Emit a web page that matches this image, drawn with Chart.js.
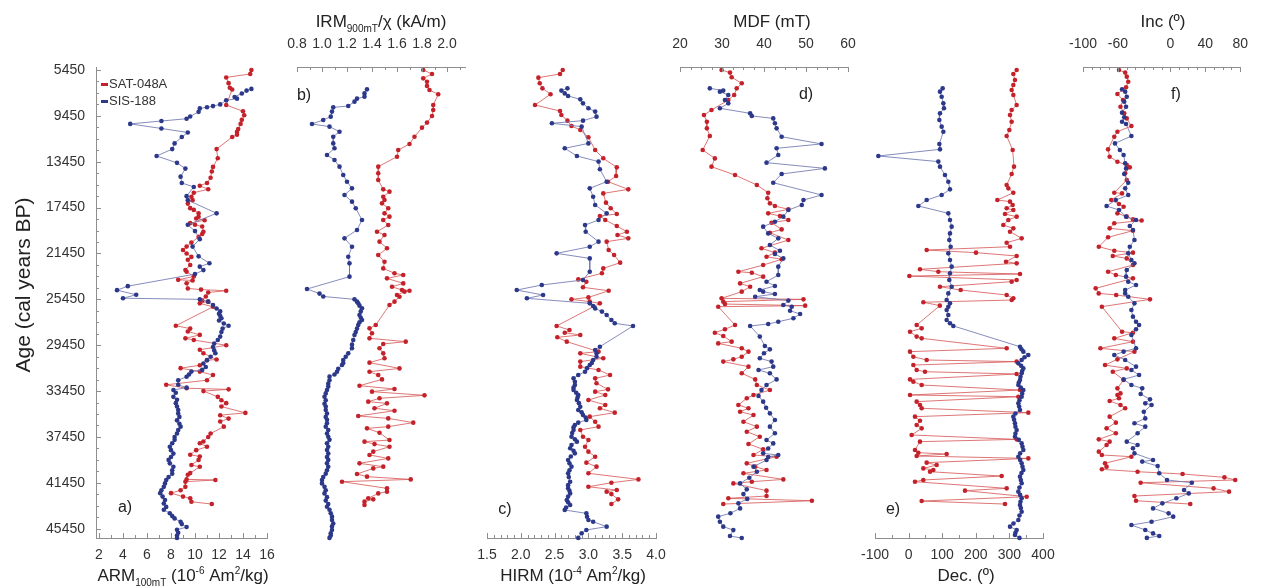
<!DOCTYPE html>
<html>
<head>
<meta charset="utf-8">
<script src="https://cdn.jsdelivr.net/npm/chart.js@4.4.1/dist/chart.umd.min.js"></script>
<style>
  html, body { margin: 0; padding: 0; background: #fff; }
  #wrap { position: relative; width: 1262px; height: 586px; background: #fff; overflow: hidden; }
  #wrap canvas { position: absolute; left: 0; top: 0; }
</style>
</head>
<body>
<div id="wrap"></div>
<script>
// ---------------- Age axis (cal years BP) ----------------
const ageTicks = [5450, 9450, 13450, 17450, 21450, 25450, 29450, 33450, 37450, 41450, 45450];

// ---------------- a) ARM 100mT (10^-6 Am2/kg) ----------------
const armTicks = [2, 4, 6, 8, 10, 12, 14, 16];
const armSatAge = [5450,5800,6100,6600,7000,7150,8500,9050,9400,9800,10150,10600,10850,11100,11300,12350,13150,13900,14300,14850,15300,15550,15850,16150,16500,16800,17100,17500,17650,17950,18250,18400,18550,18800,18950,19100,19550,19750,20000,20500,20850,21150,21450,21750,22000,22450,22900,23050,23450,23750,23800,24050,24500,24600,24700,24850,25200,25550,25650,25800,26100,27750,28000,28250,28550,28850,29000,29450,29850,30150,30700,30750,31200,31450,31750,32050,32500,32900,33200,33300,33450,33950,34250,34500,34800,35350,35550,35850,36100,36550,37150,37450,37850,38000,38300,38600,39000,39150,39450,39900,40050,40600,40750,41150,41200,41350,41800,42100,42350,42650,42800,43100,43300];
const armSatVal = [14.7,14.6,12.6,12.8,12.9,13.1,12.6,14.0,14.1,13.9,13.8,13.6,13.5,13.5,13.1,11.8,11.9,11.5,11.4,11.3,11.0,10.4,11.1,9.9,9.7,9.8,9.4,9.6,9.9,10.3,10.3,10.1,10.8,9.6,10.0,10.6,10.7,10.6,10.3,9.7,9.3,9.0,9.3,9.7,9.4,9.6,9.2,9.3,9.9,8.6,9.8,9.3,9.4,10.5,12.6,11.1,10.9,10.6,11.1,10.4,11.5,8.4,9.6,9.4,10.4,9.2,9.9,12.6,10.4,10.7,11.8,11.0,10.4,8.8,10.4,11.5,11.0,7.6,9.3,12.8,10.7,11.9,12.2,12.6,12.2,14.2,12.1,12.8,12.1,12.4,11.3,11.1,10.7,10.4,11.0,10.1,9.6,10.4,10.3,9.7,10.4,9.6,9.4,9.3,11.7,9.2,9.2,8.8,8.0,9.0,9.6,9.7,11.4];
const armSisAge = [7100,7250,7500,7800,7950,8100,8450,8600,8700,8800,9100,9500,9700,9900,10150,10550,10900,11300,11850,12350,12950,13550,14050,14750,15300,15650,16450,16800,17950,18950,19500,20200,20850,21700,22300,22600,22900,23250,24300,24650,25050,25350,25450,25650,25950,26250,26500,26700,26900,27100,27300,27550,27750,28000,28300,28700,29000,29300,29600,29900,30150,30450,30750,31050,31350,31600,31750,32000,32200,32500,32900,33150,33350,33600,33950,34200,34500,34800,35100,35400,35700,36000,36300,36550,36850,37150,37450,37700,38000,38300,38600,38900,39200,39450,39750,40050,40350,40650,40950,41200,41500,41800,42100,42350,42650,42950,43250,43550,43800,44100,44350,44550,44850,45050,45300,45550,45800,46050,46250];
const armSisVal = [14.7,14.3,13.9,13.3,13.5,12.6,12.1,11.5,11.0,10.4,10.3,9.6,9.3,7.2,4.6,7.2,9.4,8.9,8.3,8.1,6.8,8.5,9.2,8.8,8.9,9.9,9.3,9.4,11.8,9.4,10.0,10.4,9.8,10.3,11.2,10.4,10.7,10.0,4.4,3.5,5.1,4.0,10.4,11.1,11.5,11.8,12.1,12.0,12.1,12.2,12.0,12.4,12.8,12.3,12.2,12.1,11.9,11.6,11.5,11.6,11.7,11.3,11.0,10.7,10.9,10.6,9.7,9.5,9.3,8.6,8.6,9.3,8.2,8.4,8.2,8.5,8.4,8.5,8.6,8.6,8.7,8.5,8.7,8.8,8.6,8.5,8.3,8.3,8.1,7.9,8.0,8.2,8.0,7.8,7.9,8.2,8.1,8.1,7.8,7.6,7.5,7.4,7.2,7.1,7.3,7.5,7.4,7.6,7.4,7.9,8.1,8.3,8.8,8.9,9.3,8.5,8.6,8.5,8.5];

// ---------------- b) IRM 900mT / chi (kA/m) ----------------
const irmTicks = [0.8, 1.0, 1.2, 1.4, 1.6, 1.8, 2.0];
const irmSatAge = [5450,5800,6180,6470,6850,7200,7570,8500,8940,9460,10040,10480,11270,11900,12430,13010,13880,14460,15040,15860,16060,16500,16790,17080,17510,17950,18240,18530,18970,19550,19840,20420,21000,21580,22170,22750,23180,23330,23620,24060,24350,24640,24700,24780,25070,25220,25650,25940,27690,27980,28410,28850,29140,29340,29720,30160,30590,30970,31470,31760,32050,32430,32980,33270,33500,33820,34080,34370,34520,34950,35160,35620,35830,36200,36550,36700,37080,37720,37860,38070,38300,38730,39020,39320,39750,40040,40190,40680,40910,41150,41350,41930,42220,42370,42800,42890,43090,43380];
const irmSatVal = [1.81,1.88,1.81,1.84,1.84,1.86,1.93,1.89,1.89,1.88,1.84,1.80,1.74,1.70,1.61,1.60,1.45,1.45,1.45,1.49,1.54,1.49,1.50,1.48,1.53,1.50,1.54,1.49,1.53,1.44,1.50,1.46,1.52,1.45,1.50,1.49,1.58,1.65,1.52,1.65,1.56,1.64,1.70,1.66,1.60,1.62,1.58,1.54,1.43,1.38,1.40,1.38,1.67,1.49,1.46,1.49,1.50,1.38,1.62,1.38,1.45,1.48,1.30,1.58,1.40,1.82,1.46,1.37,1.52,1.42,1.58,1.29,1.53,1.73,1.53,1.36,1.46,1.54,1.34,1.42,1.54,1.41,1.38,1.53,1.30,1.49,1.41,1.28,1.36,1.71,1.16,1.52,1.52,1.45,1.37,1.41,1.34,1.34];
const irmSisAge = [7140,7490,7780,7950,8210,8590,8710,9080,9520,9810,10160,10390,10830,11270,11850,12280,12860,13300,13880,14610,15190,15770,16350,16930,17510,18530,19400,20130,20860,21730,22310,23470,24550,24950,25200,25450,25650,25800,26000,26230,26500,26810,27050,27250,27450,27690,28000,28300,28560,29000,29400,29720,30160,30450,30740,31000,31180,31500,31760,32000,32190,32500,32800,33060,33350,33650,33940,34250,34550,34800,35100,35400,35700,35950,36260,36550,36850,37150,37430,37700,38000,38300,38590,38900,39200,39450,39750,40050,40350,40650,40950,41200,41500,41800,42100,42370,42700,43000,43300,43530,43800,44100,44400,44690,45000,45250,45560,45850,46050,46250];
const irmSisVal = [1.36,1.34,1.34,1.28,1.26,1.21,1.09,1.08,1.07,1.01,0.92,1.06,1.14,1.09,1.09,1.10,1.04,1.10,1.14,1.17,1.20,1.24,1.18,1.24,1.27,1.32,1.28,1.18,1.24,1.21,1.22,1.22,0.88,0.98,1.01,1.26,1.28,1.29,1.30,1.32,1.31,1.30,1.31,1.32,1.30,1.29,1.28,1.27,1.26,1.25,1.24,1.24,1.21,1.19,1.17,1.17,1.16,1.13,1.12,1.10,1.06,1.06,1.05,1.05,1.04,1.03,1.02,1.03,1.02,1.03,1.03,1.04,1.03,1.04,1.04,1.03,1.05,1.04,1.05,1.06,1.04,1.05,1.04,1.05,1.04,1.05,1.04,1.05,1.04,1.03,1.01,1.00,1.00,1.02,1.03,1.02,1.04,1.03,1.05,1.04,1.06,1.07,1.08,1.08,1.09,1.08,1.08,1.07,1.07,1.06];

// ---------------- c) HIRM (10^-4 Am2/kg) ----------------
const hirmTicks = [1.5, 2.0, 2.5, 3.0, 3.5, 4.0];
const hirmSatAge = [5450,5800,6120,6610,7050,7570,8500,9030,9380,9870,10330,10680,11320,12430,13150,13940,14700,15190,15860,16210,17020,17510,18010,18180,18530,19060,19550,19840,20130,20420,21150,21580,22250,22750,23180,23710,23910,24400,24700,25280,25450,25650,25800,27770,28120,28360,28560,28760,29140,30010,30160,30590,30880,31320,31610,32050,32340,32770,33300,33500,33790,34230,34660,34950,35330,35680,36120,36550,36840,37430,37720,38300,38730,39170,39690,40040,40620,41150,41440,41790,42080,42220,42430,42890,43300];
const hirmSatVal = [2.62,2.58,2.26,2.28,2.32,2.44,2.21,2.58,2.60,2.69,2.75,2.88,3.00,3.10,3.22,3.42,3.41,3.29,3.59,3.22,3.26,3.33,3.42,3.17,3.25,3.42,3.57,3.43,3.59,3.27,3.30,3.38,3.47,3.22,3.20,2.85,2.97,2.92,3.30,3.00,2.75,3.02,3.17,2.53,2.72,2.65,2.88,2.54,2.68,3.15,2.88,3.22,2.88,2.88,3.15,3.32,3.10,3.12,3.29,3.10,3.25,3.00,3.25,3.17,3.39,3.02,3.10,3.15,2.88,2.92,3.00,2.95,3.00,3.10,2.97,3.12,3.00,3.74,3.34,3.00,3.42,3.27,3.34,3.44,3.34];
const hirmSisAge = [7050,7250,7490,7720,8010,8360,8790,9080,9520,9870,10100,10390,11850,12280,12950,13440,14110,15190,15770,16500,17220,17950,18530,18970,19550,20420,20860,21440,21880,23040,23760,24200,24640,25070,25360,25800,26030,26240,26520,26810,27250,27540,27770,29580,29870,30150,30450,30740,31000,31180,31450,31760,32050,32340,32630,32920,33150,33360,33600,33790,34000,34230,34500,34810,35100,35300,35540,35750,35970,36200,36410,36600,36840,37100,37430,37650,37860,38150,38440,38650,38880,39150,39460,39750,40040,40350,40620,40950,41350,41650,41930,42150,42370,42650,42950,43150,43380,43600,43820,44110,44400,44690,44840,45270,45560,45850,46250];
const hirmSisVal = [2.69,2.60,2.65,2.70,2.88,2.92,3.00,3.10,3.12,2.92,2.46,2.90,3.00,2.65,2.83,3.15,3.17,3.27,3.02,3.07,3.10,3.27,3.15,2.95,2.96,3.15,3.02,2.53,3.02,3.02,2.92,2.31,1.94,2.33,2.09,3.02,3.07,3.10,3.20,3.27,3.34,3.39,3.66,3.17,3.10,3.12,3.12,3.07,3.05,3.02,2.98,2.95,2.85,2.78,2.80,2.80,2.78,2.78,2.82,2.85,2.84,2.83,2.86,2.88,2.85,2.90,2.92,2.96,2.97,2.85,2.80,2.78,2.78,2.76,2.75,2.80,2.83,2.75,2.73,2.78,2.80,2.74,2.70,2.72,2.75,2.72,2.70,2.71,2.73,2.70,2.70,2.72,2.73,2.70,2.68,2.70,2.73,2.67,2.65,2.97,2.98,3.00,3.07,3.27,2.97,2.90,2.85];

// ---------------- d) MDF (mT) ----------------
const mdfTicks = [20, 30, 40, 50, 60];
const mdfSatAge = [5450,5680,6090,6610,7050,7630,8070,8940,9380,9960,10540,11210,12430,13160,13880,14610,15480,16150,16640,17080,17310,17600,17950,18180,18530,18770,19350,19640,20280,21000,21380,21730,21960,22460,23040,23130,23470,24060,24350,24780,25360,25450,25650,25860,26000,26090,27690,28060,28360,28650,29140,29290,29720,30010,30450,30680,30880,31320,31900,32430,32920,33360,33790,34080,34660,34950,35250,35540,36120,36550,36990,37430,38060,38530,39020,39170,39750,40040,40330,40620,41150,41350,41500,42130,42600,42800,43010,43300];
const mdfSatVal = [29.9,31.9,32.3,34.7,33.5,32.9,31.5,27.5,25.7,26.4,26.4,27.1,25.4,28.3,27.5,33.1,38.3,41.0,40.8,41.4,42.6,45.8,41.0,43.8,45.8,41.8,44.2,41.4,45.8,39.4,42.6,40.6,44.2,39.8,33.9,37.1,39.8,34.3,36.7,34.7,29.9,49.4,30.3,30.7,49.8,29.1,33.1,30.7,28.3,30.3,32.3,29.1,34.7,36.3,34.7,32.7,30.3,36.3,34.7,37.9,38.3,41.4,37.5,35.9,33.9,36.3,34.3,37.5,35.1,38.3,35.9,39.0,36.3,39.8,37.5,43.0,35.9,37.9,40.6,35.1,44.6,37.1,32.7,40.6,40.6,31.5,51.4,30.3];
const mdfSisAge = [7050,7250,7340,7630,8070,8360,8790,9230,9460,9670,10100,10540,11270,11900,12280,12860,13530,14030,14520,15280,16350,16790,17220,17660,18240,18680,19110,19700,20130,20710,21210,21500,21880,22600,23330,23910,24290,24640,24780,24980,25220,25560,25940,26090,26440,26730,27100,27400,27600,27770,28700,29520,29810,30150,30590,30880,31320,31610,31900,32430,32920,33360,33880,34370,34900,35390,35970,36550,37130,37720,38010,38450,38880,39020,39200,39460,40040,40480,41000,41500,42020,42430,42850,43240,43680,44100,44400,44840,45270,45570,46090,46260];
const mdfSisVal = [27.1,30.3,29.5,31.5,30.7,31.5,29.5,36.7,37.1,42.2,42.6,43.0,44.2,53.7,43.0,43.4,40.6,54.5,44.2,42.2,53.7,49.4,49.0,45.8,44.6,42.6,39.8,41.0,43.4,41.4,43.8,42.6,44.6,43.4,43.4,40.6,42.6,39.0,39.8,42.6,37.9,45.8,44.6,46.6,46.2,48.6,47.0,43.4,41.0,36.7,39.0,40.2,41.4,40.0,39.0,41.8,42.2,38.7,41.4,43.0,40.6,39.4,38.7,39.8,40.5,41.4,42.6,41.4,42.6,40.6,42.2,41.0,39.8,43.4,41.0,40.6,37.5,38.3,36.5,34.3,35.9,35.1,36.0,33.9,34.3,32.0,29.1,29.5,30.3,32.7,31.9,34.7];

// ---------------- e) Declination (º) ----------------
const decTicks = [-100, 0, 100, 200, 300, 400];
const decSatAge = [5450,5800,6320,6760,7190,7630,8500,8940,9380,9960,10680,11210,12430,13880,14520,15480,15770,16150,16790,16930,17220,17510,17660,18010,18240,18530,18970,19260,19550,20130,20510,20860,21150,21380,21670,22170,22310,22830,23040,23240,23420,23760,23910,24350,24640,25070,25360,25510,25700,26000,27690,27980,28270,28700,28850,29720,30010,30450,30740,30880,31180,31610,31760,31960,32430,32630,32920,33360,33790,33940,34370,34660,34950,35330,35680,36030,36410,36700,37280,37660,37860,38590,38820,38940,39110,39320,39690,39900,40190,40330,40480,40860,41200,41350,41930,42130,42660,43040,43300];
const decSatVal = [321.6,311.7,316.6,311.7,306.7,311.7,321.6,306.7,301.8,306.7,299.8,291.9,309.7,313.7,306.7,291.9,296.8,311.7,264.1,301.8,309.7,291.9,311.7,286.9,321.6,296.8,281.9,311.7,301.8,336.5,291.9,301.8,53.8,200.6,321.6,289.9,321.6,33.9,88.5,331.5,2.2,321.6,306.7,93.4,155.0,291.9,311.7,306.7,43.8,93.0,24.0,38.9,4.2,24.0,38.9,291.9,4.2,14.1,53.8,321.6,14.1,24.0,48.8,321.6,4.2,14.1,38.9,331.5,4.2,326.6,24.0,33.9,38.9,356.3,19.0,33.9,24.0,38.9,9.1,321.6,33.9,19.0,29.0,113.3,24.0,356.3,53.8,83.5,43.8,73.6,63.7,277.0,43.8,19.0,291.9,167.8,351.4,38.9,286.9];
const decSisAge = [7050,7340,7780,8360,8790,9230,9810,10390,10830,11900,12370,12950,13440,13880,14610,15190,15860,16350,16790,17310,17950,18530,19110,19700,20280,20860,21440,22020,22600,23180,23760,24350,24930,25510,25800,26090,26380,26810,27250,27540,27770,29580,29800,30010,30300,30500,30740,31030,31250,31470,31700,31900,32200,32480,32700,32920,33150,33360,33650,33940,34250,34520,34800,35100,35400,35680,35950,36260,36550,36840,37150,37430,37700,38010,38300,38590,38880,39170,39450,39750,40050,40330,40600,40910,41200,41490,41850,42220,42500,42800,43100,43380,43650,43970,44300,44690,45000,45270,45560,45800,46000,46250];
const decSisVal = [101.4,93.4,98.4,103.4,105.3,93.4,91.5,98.4,103.4,91.5,93.4,-90.1,88.5,93.4,108.3,118.2,123.2,98.4,53.8,29.0,118.2,123.2,128.2,123.2,121.2,125.2,118.2,123.2,128.2,123.2,121.2,128.2,118.2,113.3,123.2,118.2,113.3,118.2,113.3,123.2,133.1,331.5,336.0,341.5,356.3,345.0,336.5,326.6,335.0,341.5,338.0,336.5,333.0,331.5,328.0,326.6,334.0,341.5,338.0,336.5,330.0,326.6,329.0,331.5,318.0,311.7,314.0,316.6,318.0,321.6,318.0,316.6,328.0,336.5,339.0,341.5,332.0,326.6,332.0,336.5,339.0,341.5,336.0,331.5,334.0,336.5,330.0,326.6,332.0,336.5,333.0,331.5,334.0,336.5,330.0,326.6,312.0,301.8,321.6,318.0,316.6,330.0];

// ---------------- f) Inclination (º) ----------------
const incTicks = [-100, -60, 0, 40, 80];
const incSatAge = [5450,5680,6030,6470,6960,7540,8070,8650,9230,9670,10340,10830,11270,12370,13010,13450,13740,13940,14460,15040,16150,16210,16790,17140,17370,17950,18240,18480,18580,18820,19260,19460,20040,20860,21210,21380,21670,21880,22460,23040,23330,23620,24490,24930,25070,25450,26090,28270,28360,28850,29140,29720,30010,30680,31180,31470,31760,32480,33210,33650,33790,34080,34310,34660,34950,35680,36200,36700,37130,37660,37860,38150,38730,39020,39170,39750,40040,40270,40480,40680,40970,41200,41440,41930,42220,42600,43010,43300];
const incSatVal = [-58.8,-51.7,-49.9,-48.2,-50.7,-60.6,-54.2,-57.1,-52.8,-49.9,-44.6,-60.6,-64.2,-71.3,-69.5,-60.6,-49.9,-46.4,-51.7,-49.9,-64.2,-55.3,-67.7,-58.8,-53.5,-60.6,-49.9,-42.8,-32.9,-64.2,-69.5,-42.8,-71.3,-81.9,-64.2,-42.8,-65.9,-49.9,-42.8,-71.3,-62.4,-42.8,-85.5,-82.0,-62.0,-23.3,-78.4,-55.3,-42.8,-64.2,-42.8,-80.1,-41.1,-60.6,-74.8,-49.9,-65.9,-53.5,-60.6,-57.1,-60.6,-58.8,-69.5,-57.1,-51.7,-69.5,-62.4,-73.0,-62.4,-81.9,-69.5,-73.0,-81.9,-78.4,-44.6,-74.8,-73.0,-78.4,-37.5,14.0,61.9,74.3,-34.0,49.5,67.2,-41.1,-39.3,22.8];
const incSisAge = [7140,7340,7780,8210,8650,9170,9580,9960,10160,11210,11850,12430,12860,13590,14030,14520,15280,15770,16350,16790,17310,17660,18240,18530,19060,19400,20280,20860,21440,22020,22310,22890,23470,23910,24200,24640,24930,25220,25800,26380,26960,27400,27690,28060,28560,29720,30010,30300,30740,31320,31610,32050,32430,32920,33210,33700,34170,34520,34660,35250,35830,36260,36550,37130,37860,38150,38440,38880,39460,39600,39980,40620,41200,41440,42080,42370,42800,43240,43680,44110,44400,44840,45130,45560,45860,46090,46250];
const incSisVal = [-55.3,-51.7,-49.9,-52.8,-50.7,-55.3,-52.8,-55.3,-50.7,-44.6,-63.4,-57.8,-53.5,-51.7,-50.7,-52.8,-48.2,-51.7,-48.2,-62.4,-73.0,-58.8,-50.7,-39.3,-46.4,-42.8,-41.1,-46.4,-48.2,-44.6,-41.1,-49.9,-50.7,-48.2,-39.3,-51.7,-51.7,-48.2,-41.1,-44.6,-42.8,-39.3,-35.8,-39.3,-44.6,-39.3,-53.5,-64.2,-51.7,-39.3,-44.6,-35.8,-53.5,-44.6,-32.2,-34.0,-23.3,-28.7,-21.5,-30.4,-28.7,-41.1,-28.7,-37.5,-49.9,-37.5,-42.8,-41.1,-19.8,-32.2,-14.5,-12.7,-3.8,24.6,15.7,21.1,6.9,-9.1,-19.8,-2.0,3.3,-21.5,-44.6,-28.7,-19.8,-12.7,-26.9];

// ---------------- styling ----------------
const FONT = "'Liberation Sans', Arial, Helvetica, sans-serif";
const W = 1262, H = 586;
const PLOT_TOP = 67, PLOT_BOTTOM = 538;
const AGE_MIN = 5190, AGE_MAX = 46260;
const AXIS = '#8e8e8e', TXT = '#333333';
const SAT = { dot: '#c4222b', line: 'rgba(214, 86, 86, 0.9)', name: 'SAT-048A' };
const SIS = { dot: '#2c3889', line: 'rgba(112, 120, 176, 0.95)', name: 'SIS-188' };

Chart.defaults.font.family = FONT;

function near(v, list) { return list.some(m => Math.abs(m - v) < 1e-6); }
function stepList(a, b, step) {
  const out = [];
  const n = Math.round((b - a) / step);
  for (let i = 0; i <= n; i++) out.push(Math.round((a + i * step) * 1000) / 1000);
  return out;
}

// draws a line of text with sub/superscript segments, centred on (cx, cy)
function drawRich(ctx, segs, cx, cy, size) {
  const small = Math.round(size * 0.6);
  const parts = segs.map(([t, kind]) => {
    const fs = kind ? small : size;
    ctx.font = fs + 'px ' + FONT;
    return { t, kind, fs, w: ctx.measureText(t).width };
  });
  const total = parts.reduce((s, p) => s + p.w, 0);
  let x = cx - total / 2;
  const base = cy + size * 0.36;
  ctx.textAlign = 'left';
  ctx.textBaseline = 'alphabetic';
  parts.forEach(p => {
    ctx.font = p.fs + 'px ' + FONT;
    const dy = p.kind === 'sub' ? size * 0.3 : p.kind === 'sup' ? -size * 0.42 : 0;
    ctx.fillText(p.t, x, base + dy);
    x += p.w;
  });
}

const yMinor = stepList(5450, 45450, 1000);

function makePanel(p) {
  const canvas = document.createElement('canvas');
  canvas.width = W; canvas.height = H;
  document.getElementById('wrap').appendChild(canvas);

  const xTickVals = stepList(p.minorFrom, p.minorTo, p.minorStep);
  const top = p.xPos === 'top';

  const decor = {
    id: 'decor_' + p.tag,
    afterDraw(chart) {
      const ctx = chart.ctx;
      ctx.save();
      // inward tick marks on the x axis
      ctx.strokeStyle = AXIS; ctx.lineWidth = 1;
      ctx.beginPath();
      const sx = chart.scales.x;
      sx.ticks.forEach(t => {
        const px = Math.round(sx.getPixelForValue(t.value)) + 0.5;
        const len = near(t.value, p.majors) ? 5 : 3;
        if (top) { ctx.moveTo(px, sx.bottom); ctx.lineTo(px, sx.bottom + len); }
        else { ctx.moveTo(px, sx.top); ctx.lineTo(px, sx.top - len); }
      });
      if (p.showY) {
        const sy = chart.scales.y;
        sy.ticks.forEach(t => {
          const py = Math.round(sy.getPixelForValue(t.value)) + 0.5;
          const len = near(t.value, ageTicks) ? 5 : 3;
          ctx.moveTo(sy.right, py); ctx.lineTo(sy.right + len, py);
        });
      }
      ctx.stroke();

      // axis title
      ctx.fillStyle = '#222';
      drawRich(ctx, p.title, p.titleX, top ? 21 : 575, 17);

      // panel tag
      ctx.font = '16px ' + FONT;
      ctx.textAlign = 'center'; ctx.textBaseline = 'middle';
      ctx.fillText(p.tag, p.tagX, p.tagY);

      if (p.showY) {
        // age axis title
        ctx.save();
        ctx.translate(22, 285);
        ctx.rotate(-Math.PI / 2);
        drawRich(ctx, [['Age (cal years BP)']], 0, 0, 21);
        ctx.restore();
        // legend
        [[SAT, 84.5], [SIS, 101.5]].forEach(([s, y]) => {
          ctx.fillStyle = s.dot;
          ctx.fillRect(101, y - 1.5, 7, 3);
          ctx.fillStyle = '#333';
          ctx.font = '13px ' + FONT;
          ctx.textAlign = 'left'; ctx.textBaseline = 'middle';
          ctx.fillText(s.name, 109, y);
        });
      }
      ctx.restore();
    }
  };

  const mkSet = (s, age, val) => ({
    label: s.name,
    data: age.map((a, i) => ({ x: val[i], y: a })),
    showLine: true,
    borderColor: s.line,
    borderWidth: 0.9,
    backgroundColor: s.dot,
    pointBackgroundColor: s.dot,
    pointBorderWidth: 0,
    pointRadius: 2.3,
    pointHoverRadius: 2.3,
    tension: 0,
    clip: false
  });

  new Chart(canvas, {
    type: 'scatter',
    data: {
      datasets: [mkSet(SIS, p.sisAge, p.sisVal), mkSet(SAT, p.satAge, p.satVal)]
    },
    options: {
      responsive: false,
      animation: false,
      events: [],
      layout: { padding: p.pad },
      plugins: { legend: { display: false }, tooltip: { enabled: false } },
      scales: {
        x: {
          type: 'linear',
          position: p.xPos,
          min: p.xMin, max: p.xMax,
          afterFit: s => { s.height = top ? PLOT_TOP : H - PLOT_BOTTOM; },
          afterBuildTicks: s => { s.ticks = xTickVals.map(v => ({ value: v })); },
          grid: { display: false, drawTicks: false },
          border: { display: true, color: AXIS, width: 1 },
          ticks: {
            autoSkip: false, maxRotation: 0, minRotation: 0,
            padding: top ? 14 : 9,
            color: TXT,
            font: { family: FONT, size: 14 },
            callback: v => near(v, p.majors) ? p.fmt(v) : ''
          }
        },
        y: {
          type: 'linear',
          reverse: true,
          min: AGE_MIN, max: AGE_MAX,
          display: p.showY,
          afterFit: p.showY ? (s => { s.width = 96; }) : undefined,
          afterBuildTicks: s => { s.ticks = yMinor.map(v => ({ value: v })); },
          grid: { display: false, drawTicks: false },
          border: { display: true, color: AXIS, width: 1 },
          ticks: {
            autoSkip: false, padding: 11, color: TXT,
            font: { family: FONT, size: 14 },
            callback: v => near(v, ageTicks) ? String(v) : ''
          }
        }
      }
    },
    plugins: [decor]
  });
}

// a) ARM
makePanel({
  tag: 'a)', tagX: 125, tagY: 508, showY: true, xPos: 'bottom',
  xMin: 1.75, xMax: 16, majors: armTicks, minorFrom: 2, minorTo: 16, minorStep: 1, fmt: v => String(v),
  pad: { left: 0, right: W - 267, top: PLOT_TOP, bottom: 0 },
  title: [['ARM'], ['100mT', 'sub'], [' (10'], ['-6', 'sup'], [' Am'], ['2', 'sup'], ['/kg)']], titleX: 183,
  satAge: armSatAge, satVal: armSatVal, sisAge: armSisAge, sisVal: armSisVal
});
// b) IRM/chi
makePanel({
  tag: 'b)', tagX: 304, tagY: 96, showY: false, xPos: 'top',
  xMin: 0.8, xMax: 2.144, majors: irmTicks, minorFrom: 0.8, minorTo: 2.1, minorStep: 0.1, fmt: v => v.toFixed(1),
  pad: { left: 297, right: W - 465, top: 0, bottom: H - PLOT_BOTTOM },
  title: [['IRM'], ['900mT', 'sub'], ['/χ (kA/m)']], titleX: 381,
  satAge: irmSatAge, satVal: irmSatVal, sisAge: irmSisAge, sisVal: irmSisVal
});
// c) HIRM
makePanel({
  tag: 'c)', tagX: 505, tagY: 510, showY: false, xPos: 'bottom',
  xMin: 1.5, xMax: 4.0, majors: hirmTicks, minorFrom: 1.5, minorTo: 4.0, minorStep: 0.1, fmt: v => v.toFixed(1),
  pad: { left: 487, right: W - 656, top: PLOT_TOP, bottom: 0 },
  title: [['HIRM (10'], ['-4', 'sup'], [' Am'], ['2', 'sup'], ['/kg)']], titleX: 573,
  satAge: hirmSatAge, satVal: hirmSatVal, sisAge: hirmSisAge, sisVal: hirmSisVal
});
// d) MDF
makePanel({
  tag: 'd)', tagX: 806, tagY: 95, showY: false, xPos: 'top',
  xMin: 20, xMax: 60, majors: mdfTicks, minorFrom: 20, minorTo: 60, minorStep: 2.5, fmt: v => String(v),
  pad: { left: 680, right: W - 848, top: 0, bottom: H - PLOT_BOTTOM },
  title: [['MDF (mT)']], titleX: 772,
  satAge: mdfSatAge, satVal: mdfSatVal, sisAge: mdfSisAge, sisVal: mdfSisVal
});
// e) Declination
makePanel({
  tag: 'e)', tagX: 893, tagY: 510, showY: false, xPos: 'bottom',
  xMin: -100, xMax: 400, majors: decTicks, minorFrom: -100, minorTo: 400, minorStep: 50, fmt: v => String(v),
  pad: { left: 875, right: W - 1043, top: PLOT_TOP, bottom: 0 },
  title: [['Dec. (º)']], titleX: 966,
  satAge: decSatAge, satVal: decSatVal, sisAge: decSisAge, sisVal: decSisVal
});
// f) Inclination
makePanel({
  tag: 'f)', tagX: 1176, tagY: 95, showY: false, xPos: 'top',
  xMin: -100, xMax: 80, majors: incTicks, minorFrom: -100, minorTo: 80, minorStep: 10, fmt: v => String(v),
  pad: { left: 1083, right: W - 1252, top: 0, bottom: H - PLOT_BOTTOM },
  title: [['Inc (º)']], titleX: 1163,
  satAge: incSatAge, satVal: incSatVal, sisAge: incSisAge, sisVal: incSisVal
});
</script>
</body>
</html>
